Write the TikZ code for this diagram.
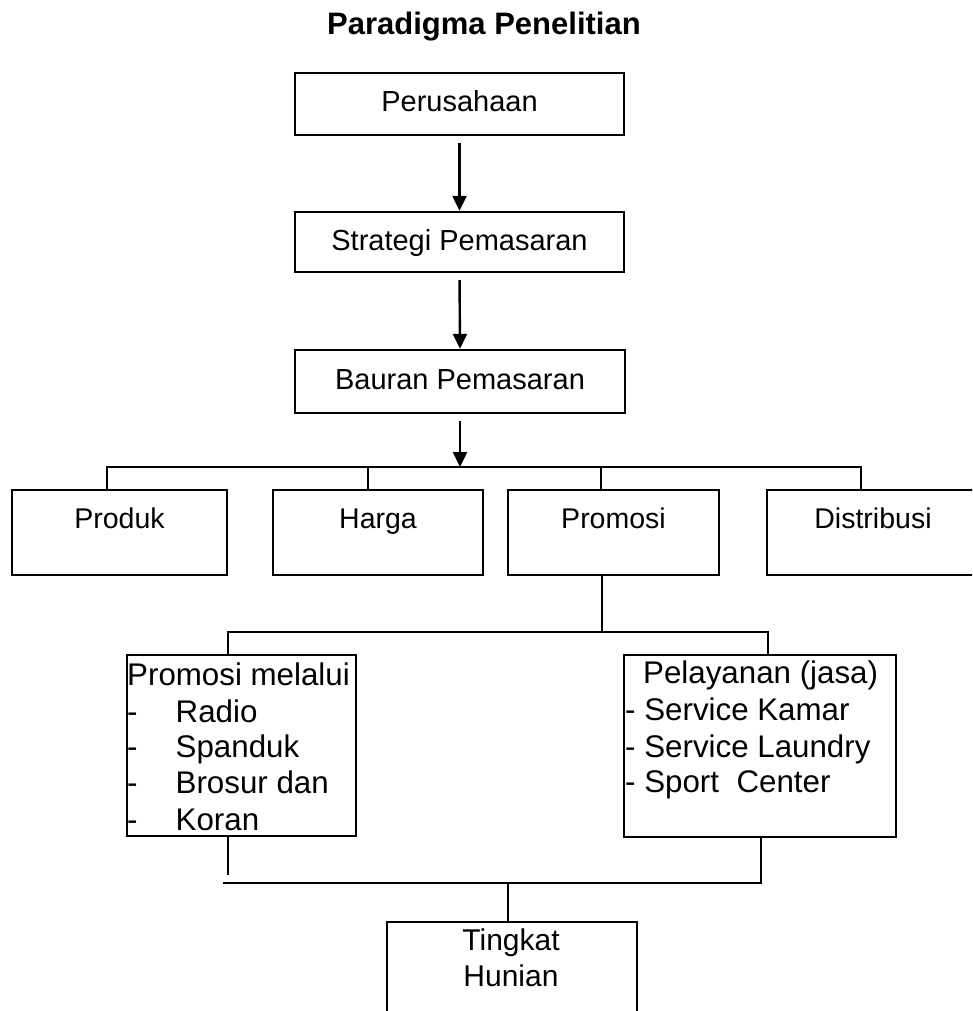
\documentclass[tikz,border=0pt]{standalone}
\usepackage{fontspec}
\setmainfont{Liberation Sans}
\usetikzlibrary{arrows.meta}
\begin{document}
\begin{tikzpicture}[x=1pt,y=-1pt,
  topbox/.style={draw, line width=2.4pt, inner sep=0pt, text height=20pt, text depth=4pt,
                 font=\fontsize{29}{34}\selectfont},
  rowbox/.style={draw, line width=2.4pt, inner sep=0pt, text height=20pt, text depth=29pt,
                 font=\fontsize{28.5}{34}\selectfont},
  listbox/.style={draw, line width=2.4pt, inner sep=0pt, anchor=north west},
  listtxt/.style={inner sep=0pt, font=\fontsize{31.3}{36}\selectfont, anchor=base west},
  midtxt/.style={inner sep=0pt, font=\fontsize{30}{36}\selectfont, anchor=base},
  conn/.style={line width=2.4pt},
  arr/.style={line width=2.4pt, shorten <=7pt, -{Triangle[length=15pt,width=14pt]}}]
\useasboundingbox (0,0) rectangle (972,1011);
\clip (0,0) rectangle (972,1011);

% title
\node[anchor=base, inner sep=0pt, font=\fontsize{31}{36}\selectfont\bfseries] (title) at (484,35) {Paradigma Penelitian};

% top chain
\node[topbox, minimum width=329pt, minimum height=62pt] (perus) at (459.5,104) {Perusahaan};
\node[topbox, minimum width=329pt, minimum height=60pt] (strat) at (459.5,242) {Strategi Pemasaran};
\node[topbox, minimum width=330pt, minimum height=63pt] (baur) at (460,381.5) {Bauran Pemasaran};

\draw[arr] (perus.south) -- (strat.north);
\draw[arr] (strat.south) -- (baur.north);

% row of four
\node[rowbox, minimum width=215pt, minimum height=85pt] (produk) at (119.5,532.5) {Produk};
\node[rowbox, minimum width=210pt, minimum height=85pt] (harga) at (378,532.5) {Harga};
\node[rowbox, minimum width=211pt, minimum height=85pt] (promosi) at (613.5,532.5) {Promosi};
\node[rowbox, minimum width=212pt, minimum height=85pt] (distri) at (873,532.5) {Distribusi};

\coordinate (hub) at (460,467);
\coordinate (hL) at (107,467);
\coordinate (hH) at (368,467);
\coordinate (hP) at (601,467);
\coordinate (hR) at (861,467);
\draw[arr] (baur.south) -- (hub);
\draw[conn] (hL |- produk.north) -- (hL) -- (hR) -- (hR |- distri.north);
\draw[conn] (hH) -- (hH |- harga.north);
\draw[conn] (hP) -- (hP |- promosi.north);

% second level
\node[listbox, minimum width=229pt, minimum height=181pt] (promo) at (126,654) {};
\node[listtxt] (pm1) at (127,685) {Promosi melalui};
\node[listtxt] (pm2) at (127,722) {\makebox[48.5pt][l]{-}Radio};
\node[listtxt] (pm3) at (127,757) {\makebox[48.5pt][l]{-}Spanduk};
\node[listtxt] (pm4) at (127,793) {\makebox[48.5pt][l]{-}Brosur dan};
\node[listtxt] (pm5) at (127,830) {\makebox[48.5pt][l]{-}Koran};

\node[listbox, minimum width=272pt, minimum height=182pt] (pel) at (623,654) {};
\node[listtxt] (pl1) at (643,683) {Pelayanan (jasa)};
\node[listtxt] (pl2) at (625,720) {- Service Kamar};
\node[listtxt] (pl3) at (625,757) {- Service Laundry};
\node[listtxt] (pl4) at (625,792) {- Sport~~Center};

\coordinate (pm) at (602,632);
\coordinate (mL) at (228,632);
\coordinate (mR) at (768,632);
\draw[conn] (promosi.south -| pm) -- (pm);
\draw[conn] (mL |- promo.north) -- (mL) -- (mR) -- (mR |- pel.north);

% bottom
\node[listbox, minimum width=250pt, minimum height=120pt] (ting) at (386,921) {};
\node[midtxt] (t1) at (511,950) {Tingkat};
\node[midtxt] (t2) at (511,986) {Hunian};

\coordinate (bL) at (228,875);
\coordinate (lineL) at (223,883);
\coordinate (bR) at (761,883);
\coordinate (bT) at (508,883);
\draw[conn] (promo.south -| bL) -- (bL);
\draw[conn] (lineL) -- (bR) -- (bR |- pel.south);
\draw[conn] (bT) -- (bT |- ting.north);
\end{tikzpicture}
\end{document}
